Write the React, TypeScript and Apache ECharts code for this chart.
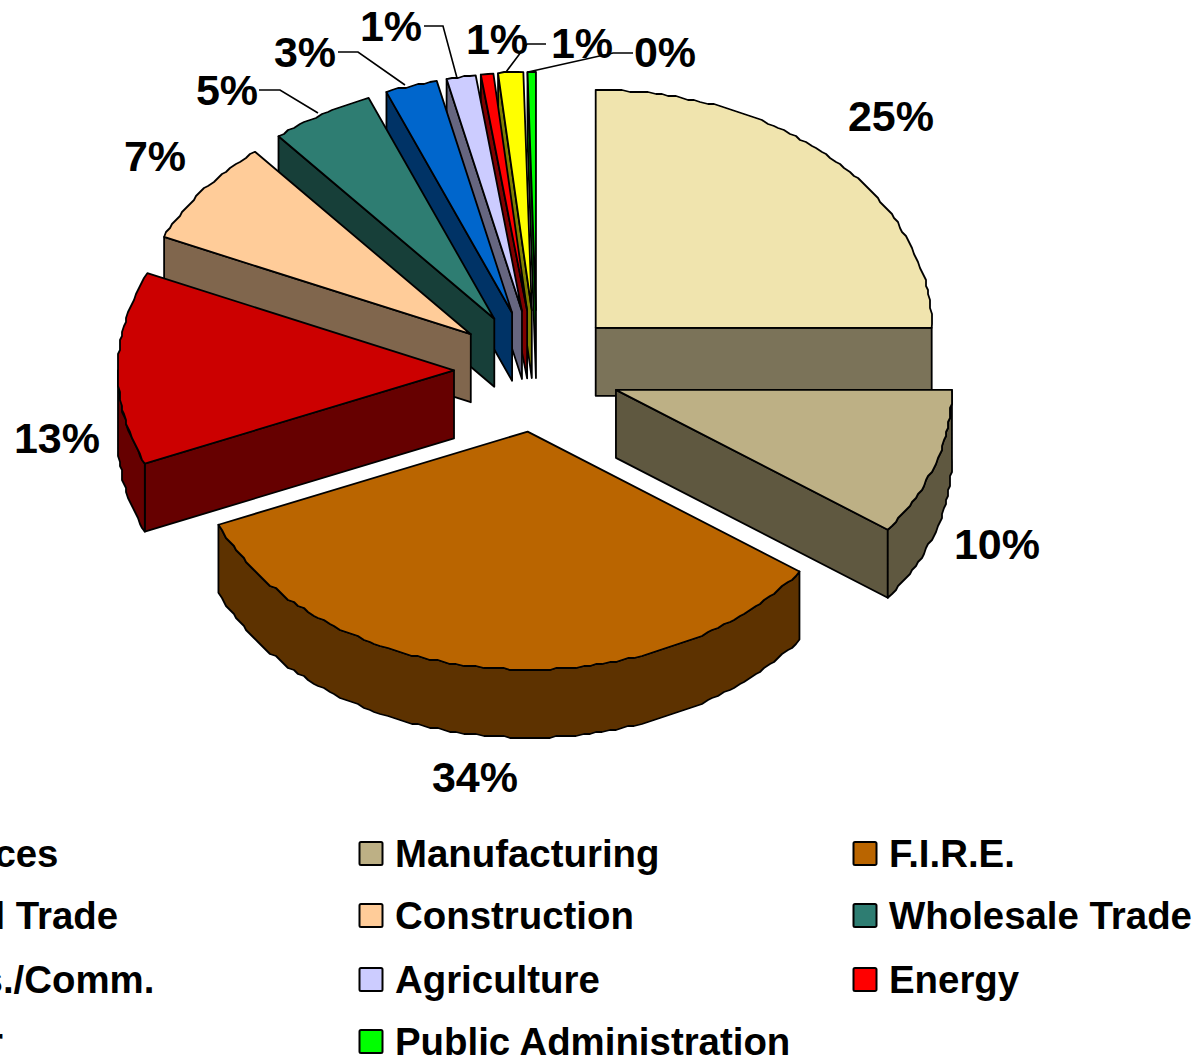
import React, { useEffect, useRef } from "react";
import * as echarts from "echarts";

// Industry shares, in percent, clockwise from twelve o'clock.
const sectors = ["Services", "Manufacturing", "F.I.R.E.", "Retail Trade", "Construction", "Wholesale Trade", "Trans./Comm.", "Agriculture", "Energy", "Other", "Public Administration"];
const shares = [25, 10, 33.6, 13.1, 7.2, 5, 2.5, 1.4, 0.6, 1.2, 0.4];
const topColors = ["#F0E4AE", "#BDB085", "#BA6500", "#CC0000", "#FFCC99", "#2E7D72", "#0066CC", "#CCCCFF", "#FF0000", "#FFFF00", "#00FF00"];
const wallColors = ["#7B7359", "#5F5840", "#5D3200", "#660000", "#80664D", "#173F39", "#003366", "#666680", "#800000", "#808000", "#008000"];

// Label anchors (text centre) and the elbow leader each one uses.
const labelAnchors: number[][] = [[891, 116], [997, 544], [475, 777], [57, 438], [155, 156], [227, 90], [305, 52], [391, 26], [497, 39], [582, 43], [665, 52]];
const leaders: (number[][] | null)[] = [null, null, null, null, null,
  [[259, 90], [280, 90], [318, 113]],
  [[338, 52], [358, 52], [405, 85]],
  [[424, 26], [443, 26], [457, 78]],
  null,
  [[546, 44], [527, 44], [506, 72]],
  [[633, 53], [613, 53], [528, 72]],
];

// Legend grid: three columns, filled row by row; the first column runs off the left edge.
const legendColumns = [-135, 359.5, 853.5];
const legendRows = [853.5, 915.5, 979.5, 1041.5];

const CX = 537, CY = 371, RX = 336, RY = 238, DEPTH = 68, EXPLODE_X = 83, EXPLODE_Y = 61;
const FONT = '"Liberation Sans", Arial, sans-serif';
const STROKE = 1.8;

const toRad = (pct: number) => (pct / 100) * Math.PI * 2;

// Ellipse outline with a fine step and snapped vertices, which gives the rim its faceted look.
function rim(ax: number, ay: number, from: number, to: number, dy = 0) {
  const pts: number[][] = [];
  const step = 0.02;
  const n = Math.max(1, Math.ceil((to - from) / step));
  for (let i = 0; i <= n; i++) {
    const t = from + ((to - from) * i) / n;
    let x = ax + RX * Math.sin(t);
    let y = ay - RY * Math.cos(t) + dy;
    if (i > 0 && i < n) {
      x = Math.round(x / 2) * 2;
      y = Math.round(y / 2) * 2;
    }
    pts.push([x, y]);
  }
  return pts;
}

function buildSlices() {
  let acc = 0;
  const list = shares.map((v, i) => {
    const start = acc;
    acc += v;
    const mid = toRad(start + v / 2);
    const ax = CX + EXPLODE_X * Math.sin(mid);
    const ay = CY - EXPLODE_Y * Math.cos(mid);
    return { index: i, name: sectors[i], value: [start, start + v], ax, ay };
  });
  // Painter's order: the slices sitting farther back come first.
  return list.sort((a, b) => a.ay - b.ay);
}

const wallStyle = (fill: string) => ({ fill, stroke: "#000", lineWidth: STROKE, lineJoin: "round" });

function renderSlice(params: any, api: any) {
  const s = slices[params.dataIndex];
  const a = toRad(api.value(0));
  const b = toRad(api.value(1));
  const children: any[] = [];
  const wall = wallColors[s.index];
  const cut = (t: number) => {
    const ex = s.ax + RX * Math.sin(t);
    const ey = s.ay - RY * Math.cos(t);
    children.push({
      type: "polygon",
      shape: { points: [[s.ax, s.ay], [ex, ey], [ex, ey + DEPTH], [s.ax, s.ay + DEPTH]] },
      style: wallStyle(wall),
    });
  };
  if (Math.sin(a) < -1e-6) cut(a);
  if (Math.sin(b) > 1e-6 || Math.abs(b - Math.PI / 2) < 1e-6) cut(b);
  const lo = Math.max(a, Math.PI / 2);
  const hi = Math.min(b, (Math.PI * 3) / 2);
  if (hi > lo) {
    const upper = rim(s.ax, s.ay, lo, hi);
    const lower = rim(s.ax, s.ay, lo, hi, DEPTH).reverse();
    children.push({ type: "polygon", shape: { points: [...upper, ...lower] }, style: wallStyle(wall) });
  }
  children.push({
    type: "polygon",
    shape: { points: [[s.ax, s.ay], ...rim(s.ax, s.ay, a, b)] },
    style: wallStyle(topColors[s.index]),
  });
  const leader = leaders[s.index];
  if (leader) {
    children.push({
      type: "polyline",
      z2: 5,
      shape: { points: leader },
      style: { fill: "none", stroke: "#000", lineWidth: 1.6 },
    });
  }
  const [lx, ly] = labelAnchors[s.index];
  children.push({
    type: "text",
    z2: 6,
    style: {
      text: `${Math.round(shares[s.index])}%`,
      x: lx,
      y: ly,
      fill: "#000",
      font: `bold 43px ${FONT}`,
      textAlign: "center",
      textVerticalAlign: "middle",
    },
  });
  return { type: "group", children };
}

const slices = buildSlices();

function legendGraphics() {
  const out: any[] = [];
  sectors.forEach((name, i) => {
    // Entries fill the columns row by row; the last row starts at the first column.
    const x = legendColumns[i % 3];
    const y = legendRows[Math.floor(i / 3)];
    out.push({
      type: "rect",
      shape: { x, y: y - 11.5, width: 23, height: 23, r: 1.5 },
      style: { fill: topColors[i], stroke: "#000", lineWidth: 2 },
    });
    out.push({
      type: "text",
      style: {
        text: name,
        x: x + 35.5,
        y,
        fill: "#000",
        font: `bold 38.4px ${FONT}`,
        textAlign: "left",
        textVerticalAlign: "middle",
      },
    });
  });
  return out;
}

export default function App() {
  const ref = useRef<HTMLDivElement>(null);
  useEffect(() => {
    document.body.style.margin = "0";
    document.body.style.overflow = "hidden";
    const chart = echarts.init(ref.current!, undefined, { renderer: "svg" });
    chart.setOption({
      animation: false,
      backgroundColor: "#fff",
      graphic: { elements: legendGraphics() },
      series: [
        {
          type: "custom",
          coordinateSystem: "none",
          renderItem: renderSlice,
          clip: false,
          data: slices.map((s) => ({ name: s.name, value: s.value })),
        },
      ],
    });
    return () => chart.dispose();
  }, []);
  return <div ref={ref} style={{ width: 1203, height: 1058 }} />;
}
